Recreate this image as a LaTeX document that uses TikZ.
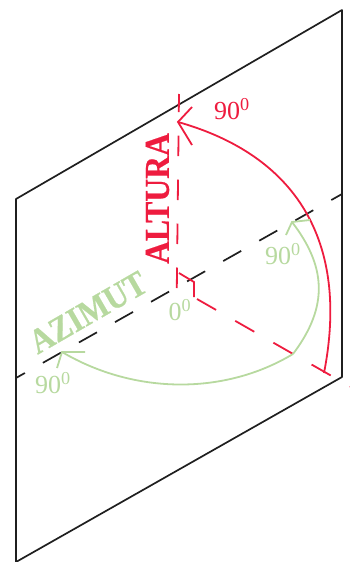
\documentclass[tikz,border=0pt]{standalone}
\usepackage{xcolor}
\usepackage{fontspec}
\setmainfont{Liberation Serif}
\usepackage{tikz}
\usetikzlibrary{positioning}
\definecolor{altred}{HTML}{EE1C3F}
\definecolor{azgreen}{HTML}{B7D99F}

\begin{document}
\begin{tikzpicture}[
    x=1pt, y=-1pt,
    plane/.style={draw=black!88, line width=1.7pt, line join=round},
    axisdash/.style={draw=black!88, line width=1.7pt, dash pattern=on 20.7pt off 20.7pt},
    altline/.style={draw=altred, line width=1.8pt},
    azline/.style={draw=azgreen, line width=1.8pt},
    altdeg/.style={text=altred, font=\fontsize{26}{26}\selectfont, inner sep=0pt},
    azdeg/.style={text=azgreen, font=\fontsize{26}{26}\selectfont, inner sep=0pt},
    bigword/.style={font=\fontsize{35}{35}\selectfont\bfseries\addfontfeature{FakeBold=0.6}, inner sep=0pt, transform shape}
]
\useasboundingbox (0,0) rectangle (349,562);

% plane
\coordinate (pa) at (16,199);
\coordinate (pb) at (342,10);
\coordinate (pc) at (342,377);
\coordinate (pd) at (16,562);
\draw[plane] (pd) -- (pa) -- (pb) -- (pc) -- (pd);

% axes
\coordinate (eastl) at (16,378);
\coordinate (eastr) at (342,194);
\draw[axisdash, dash phase=10.5pt] (eastl) -- (eastr);

\coordinate (zenb) at (176.8,288);
\coordinate (zent) at (179,94);
\draw[altline, dash pattern=on 20.5pt off 23.5pt] (zenb) -- (zent);

\coordinate (norths) at (197,299);
\coordinate (northe) at (350,386.5);
\draw[altline, dash pattern=on 22pt off 22pt] (norths) -- (northe);

% right angle
\coordinate (ra) at (179,273);
\coordinate (rb) at (194,282);
\coordinate (rc) at (194,297);
\draw[altline] (ra) -- (rb) -- (rc);

% altura arc
\coordinate (alttip) at (178,122);
\coordinate (altend) at (324,373);
\coordinate (altbarba) at (192,107);
\coordinate (altbarbb) at (192,145);
\draw[altline] (alttip) .. controls (295,155) and (350,240) .. (altend);
\draw[altline] (altbarba) -- (alttip) -- (altbarbb);

% azimut arcs
\coordinate (azs) at (293,354);
\coordinate (azl) at (62,352);
\coordinate (azr) at (292,222);
\coordinate (azlbarba) at (85,352);
\coordinate (azlbarbb) at (57,368);
\coordinate (azrbarba) at (310,220);
\coordinate (azrbarbb) at (286,235);
\draw[azline] (azs) .. controls (225,395) and (135,395) .. (azl);
\draw[azline] (azs) .. controls (330,305) and (325,265) .. (azr);
\draw[azline] (azlbarba) -- (azl) -- (azlbarbb);
\draw[azline] (azrbarba) -- (azr) -- (azrbarbb);

% labels
\node[altdeg] (alt90) at (232,109) {90\textsuperscript{0}};
\node[azdeg] (azr90) at (283,254) {90\textsuperscript{0}};
\node[azdeg] (az0) at (180,310) {0\textsuperscript{0}};
\node[azdeg] (azl90) at (53,383) {90\textsuperscript{0}};
\node[bigword, text=altred, rotate=90, xscale=0.905] (altura) at (157.5,198.5) {ALTURA};
\node[bigword, text=azgreen, rotate=30, xscale=0.9] (azimut) at (88,312.5) {AZIMUT};

\end{tikzpicture}
\end{document}
